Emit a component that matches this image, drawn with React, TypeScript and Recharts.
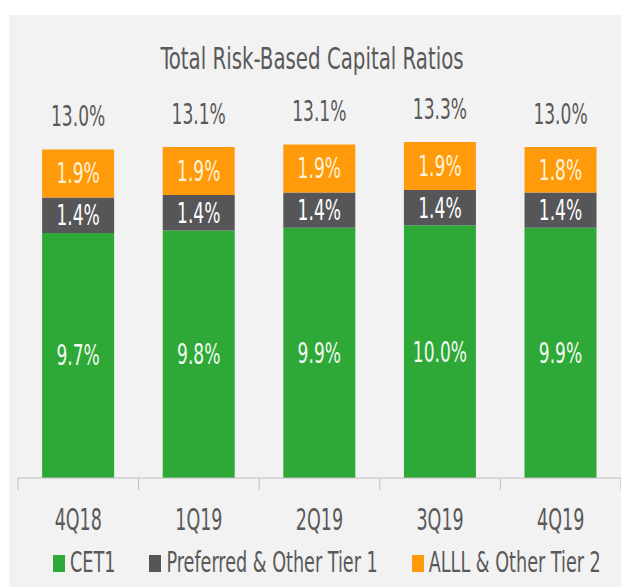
import React from 'react';
import { BarChart, Bar, XAxis, YAxis, LabelList } from 'recharts';

const categories = ['4Q18', '1Q19', '2Q19', '3Q19', '4Q19'];
const cet1 = [9.7, 9.8, 9.9, 10.0, 9.9];
const preferred = [1.4, 1.4, 1.4, 1.4, 1.4];
const alll = [1.9, 1.9, 1.9, 1.9, 1.8];
const totals = [13.0, 13.1, 13.1, 13.3, 13.0];
const seriesNames = ['CET1', 'Preferred & Other Tier 1', 'ALLL & Other Tier 2'];
const title = 'Total Risk-Based Capital Ratios';

const COLORS = ['#2EA836', '#565659', '#FF9A0A'];
const FONT = '"Liberation Sans Narrow", "DejaVu Sans Condensed", sans-serif';
const TEXT = '#595959';
const FS = 19;
const K = 1.45;

const data = categories.map((c, i) => ({
  name: c,
  cet1: cet1[i],
  preferred: preferred[i],
  alll: alll[i],
  total: totals[i],
}));

const fmt = (v: any) => `${Number(v).toFixed(1)}%`;

// text vertically stretched, centred (cap height) at cx, cy
const StretchText = ({ cx, cy, fill, children, fs = FS, k = K }: any) => (
  <text
    transform={`translate(${cx}, ${cy}) scale(1, ${k})`}
    x={0}
    y={0.36 * fs}
    textAnchor="middle"
    fill={fill}
    fontSize={fs}
    fontFamily={FONT}
  >
    {children}
  </text>
);

const centerLabel = (fill: string) => (props: any) => {
  const vb = props.viewBox && props.viewBox.width != null ? props.viewBox : props;
  const { x, y, width, height } = vb;
  return (
    <StretchText cx={x + width / 2} cy={y + height / 2} fill={fill}>
      {fmt(props.value)}
    </StretchText>
  );
};

const totalLabel = (props: any) => {
  const vb = props.viewBox && props.viewBox.width != null ? props.viewBox : props;
  const { x, y, width } = vb;
  return (
    <StretchText cx={x + width / 2} cy={y - 33} fill={TEXT}>
      {fmt(props.value)}
    </StretchText>
  );
};

const Tick = (props: any) => {
  const { x, y, payload, index } = props;
  const half = payload && payload.offset ? payload.offset : 60.5;
  const axisY = y - 34;
  return (
    <g>
      <line x1={x - half} x2={x - half} y1={axisY} y2={axisY + 12} stroke="#BFBFBF" strokeWidth={1} />
      {index === categories.length - 1 && (
        <line x1={x + half} x2={x + half} y1={axisY} y2={axisY + 12} stroke="#BFBFBF" strokeWidth={1} />
      )}
      <StretchText cx={x} cy={axisY + 41} fill={TEXT} fs={19.5} k={1.5}>
        {payload.value}
      </StretchText>
    </g>
  );
};

export default function App() {
  return (
    <div style={{ position: 'absolute', left: 0, top: 0, width: 621, height: 587, background: '#fff', overflow: 'hidden' }}>
      <div style={{ position: 'absolute', left: 9, top: 15, width: 612, height: 572, background: '#F2F2F2' }} />
      <svg style={{ position: 'absolute', left: 0, top: 0 }} width={621} height={100}>
        <StretchText cx={312} cy={58} fill={TEXT} fs={22} k={1.4}>
          {title}
        </StretchText>
      </svg>
      <div style={{ position: 'absolute', left: 0, top: 0 }}>
        <BarChart
          width={621}
          height={587}
          data={data}
          margin={{ top: 99, right: 0, bottom: 49, left: 18 }}
          barCategoryGap="20%"
        >
          <XAxis
            dataKey="name"
            axisLine={{ stroke: '#BFBFBF' }}
            tickLine={false}
            tickSize={12}
            tickMargin={22}
            height={60}
            tick={<Tick />}
            interval={0}
          />
          <YAxis hide domain={[0, 15]} />
          <Bar dataKey="cet1" stackId="a" fill={COLORS[0]} isAnimationActive={false}>
            <LabelList dataKey="cet1" content={centerLabel('#F2FAF2')} />
          </Bar>
          <Bar dataKey="preferred" stackId="a" fill={COLORS[1]} isAnimationActive={false}>
            <LabelList dataKey="preferred" content={centerLabel('#FFFFFF')} />
          </Bar>
          <Bar dataKey="alll" stackId="a" fill={COLORS[2]} isAnimationActive={false}>
            <LabelList dataKey="alll" content={centerLabel('#FFF4DA')} />
            <LabelList dataKey="total" content={totalLabel} />
          </Bar>
        </BarChart>
      </div>
      <div
        style={{
          position: 'absolute', left: 53, top: 549, height: 28, display: 'flex', whiteSpace: 'nowrap',
          alignItems: 'center', fontFamily: FONT, fontSize: 19.6, color: TEXT, lineHeight: '28px',
        }}
      >
        {seriesNames.map((n, i) => (
          <div key={n} style={{ display: 'flex', alignItems: 'center', marginRight: i < seriesNames.length - 1 ? 34 : 0 }}>
            <span style={{ display: 'inline-block', width: 12, height: 17, background: COLORS[i], marginRight: 5 }} />
            <span style={{ display: 'inline-block', transform: `scaleY(${K})` }}>{n}</span>
          </div>
        ))}
      </div>
    </div>
  );
}
